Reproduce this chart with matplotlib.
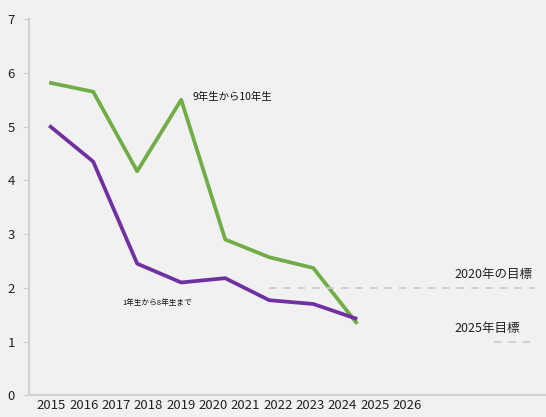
import numpy as np
import matplotlib
matplotlib.use("Agg")
import matplotlib.pyplot as plt

plt.rcParams['font.family'] = ['Noto Sans CJK JP', 'DejaVu Sans']

# ── dados ─────────────────────────────────────────────
year_labels = ["2015", "2016", "2017", "2018", "2019", "2020",
               "2021", "2022", "2023", "2024", "2025", "2026"]
grade_1_8  = [5.02, 4.35, 2.45, 2.10, 2.18, 1.77, 1.70, 1.42]
grade_9_10 = [5.82, 5.65, 4.17, 5.50, 2.90, 2.57, 2.37, 1.33]
target_2020 = 2.0
target_2025 = 1.0

bg = "#f1f1f1"
green = "#70ad47"
purple = "#7030a0"
grid_gray = "#d0d0d0"

fig = plt.figure(figsize=(5.46, 4.17), dpi=100, facecolor=bg)
ax = fig.add_axes([0.053, 0.052, 0.96, 0.902], facecolor=bg)

x = np.arange(len(grade_1_8))
ax.plot(x, grade_9_10, color=green, lw=2.7, solid_capstyle="butt")
ax.plot(x, grade_1_8, color=purple, lw=2.7, solid_capstyle="butt")

# linhas de meta
ax.plot([5, 11.05], [target_2020] * 2, color="#cccccc", lw=1.3, dashes=(4, 4))
ax.plot([10.1, 11.0], [target_2025] * 2, color="#cccccc", lw=1.3, dashes=(4, 4))

ax.text(9.2, 2.24, "2020年の目標", fontsize=9, color="#222222", ha="left", va="center")
ax.text(9.2, 1.24, "2025年目標", fontsize=9, color="#222222", ha="left", va="center")
ax.text(3.25, 5.55, "9年生から10年生", fontsize=7.5, color="#111111", ha="left", va="center")
ax.text(1.67, 1.72, "1年生から8年生まで", fontsize=5.5, color="#111111", ha="left", va="center")

ax.set_xlim(-0.46, 11.45)
ax.set_ylim(0, 7)

# rótulos do eixo x comprimidos à esquerda
ax.set_xticks(0.05 + 0.735 * np.arange(len(year_labels)))
ax.set_xticklabels(year_labels, fontsize=9.5, color="#222222")
ax.tick_params(axis="x", length=0, pad=3)

ax.set_yticks(range(0, 8))
ax.tick_params(axis="y", length=4, color=grid_gray, labelsize=9.5, labelcolor="#222222", pad=6)

for s in ["top", "right"]:
    ax.spines[s].set_visible(False)
for s in ["left", "bottom"]:
    ax.spines[s].set_color(grid_gray)
    ax.spines[s].set_linewidth(1.5)

fig.savefig("out.png", dpi=100, facecolor=bg)
